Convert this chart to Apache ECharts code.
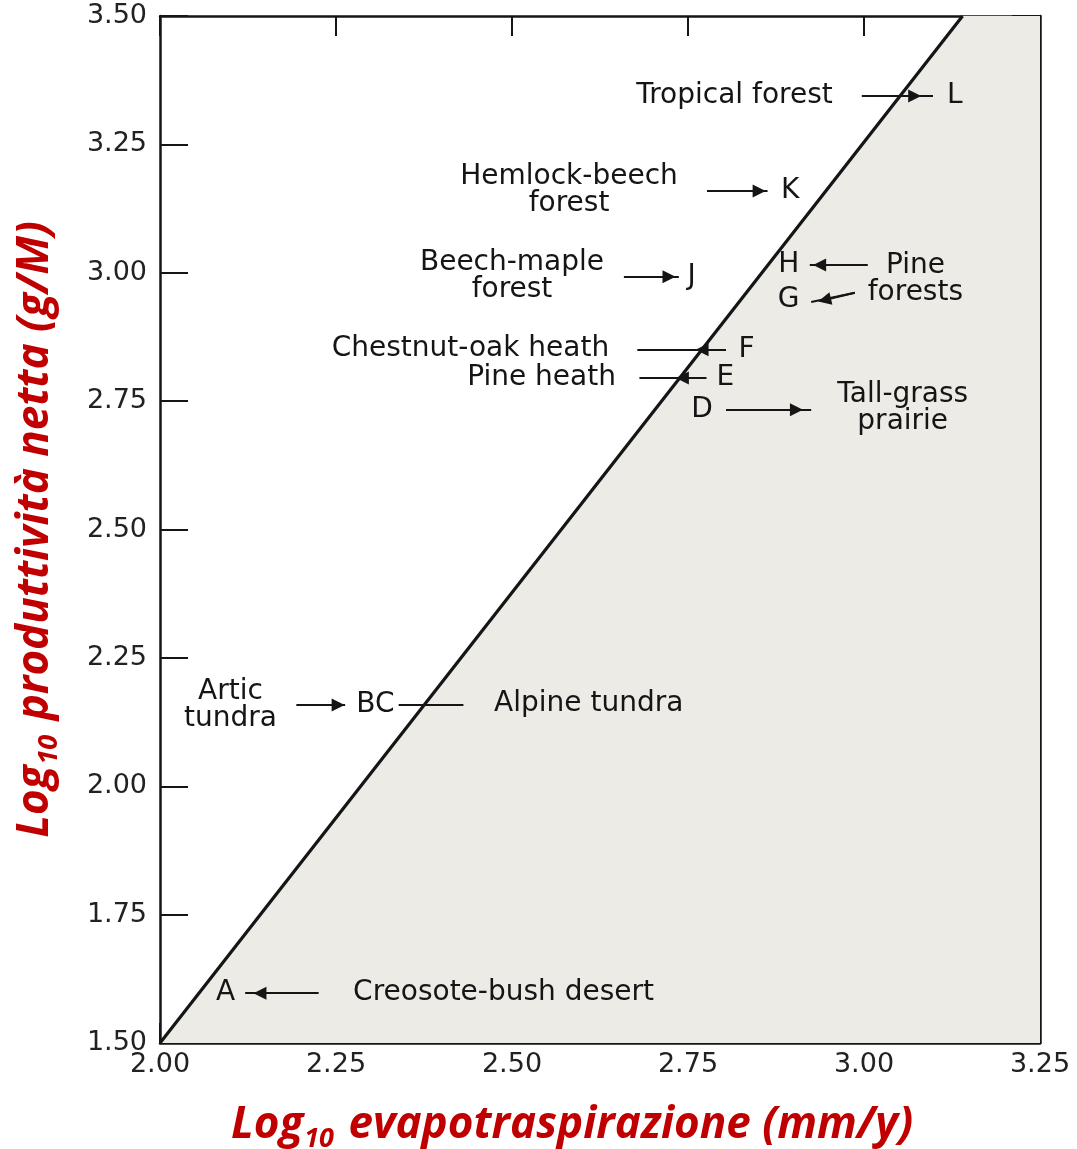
<!DOCTYPE html>
<html>
<head>
<meta charset="utf-8">
<script src="https://cdn.jsdelivr.net/npm/echarts@6/dist/echarts.min.js"></script>
<style>html,body{margin:0;padding:0;background:#fff;}#c{width:1077px;height:1149px;}</style>
</head>
<body>
<div id="c"></div>
<script>
// Axis ranges and ticks
const xTicks = [2.00, 2.25, 2.50, 2.75, 3.00, 3.25];
const yTicks = [1.50, 1.75, 2.00, 2.25, 2.50, 2.75, 3.00, 3.25, 3.50];

// Boundary line (log10 evapotranspiration vs log10 net productivity)
const boundaryX = [2.00, 3.14];
const boundaryY = [1.50, 3.50];

// Ecosystem letters and positions
const pointNames = ['L', 'K', 'J', 'F', 'E', 'D', 'H', 'G', 'BC', 'A'];
const pointX = [3.129, 2.895, 2.755, 2.833, 2.803, 2.770, 2.893, 2.893, 2.306, 2.093];
const pointY = [3.344, 3.159, 2.992, 2.850, 2.795, 2.733, 3.015, 2.947, 2.158, 1.597];

// Descriptive labels
const labelTexts = ['Tropical forest', 'Hemlock-beech\nforest', 'Beech-maple\nforest',
  'Chestnut-oak heath', 'Pine heath', 'Tall-grass\nprairie', 'Pine\nforests',
  'Artic\ntundra', 'Alpine tundra', 'Creosote-bush desert'];
const labelX = [2.816, 2.581, 2.500, 2.441, 2.542, 3.055, 3.073, 2.100, 2.609, 2.488];
const labelY = [3.344, 3.161, 2.994, 2.853, 2.795, 2.737, 2.988, 2.158, 2.160, 1.597];

// Leader lines: [x1, y1, x2, y2]
const leaderLines = [
  [2.997, 3.344, 3.098, 3.344],
  [2.777, 3.159, 2.863, 3.159],
  [2.659, 2.992, 2.737, 2.992],
  [2.678, 2.850, 2.804, 2.850],
  [2.681, 2.795, 2.776, 2.795],
  [2.804, 2.733, 2.925, 2.733],
  [3.005, 3.015, 2.923, 3.015],
  [2.987, 2.961, 2.925, 2.943],
  [2.194, 2.158, 2.263, 2.158],
  [2.339, 2.158, 2.431, 2.158],
  [2.225, 1.597, 2.121, 1.597]
];
// Arrow heads: [tailX, tailY, headX, headY]
const arrowHeads = [
  [2.997, 3.344, 3.072, 3.344],
  [2.777, 3.159, 2.851, 3.159],
  [2.659, 2.992, 2.723, 2.992],
  [2.804, 2.850, 2.770, 2.850],
  [2.776, 2.795, 2.742, 2.795],
  [2.804, 2.733, 2.904, 2.733],
  [3.005, 3.015, 2.937, 3.015],
  [2.987, 2.961, 2.944, 2.947],
  [2.194, 2.158, 2.253, 2.158],
  [2.225, 1.597, 2.142, 1.597]
];

const ink = '#151515';
const txtFont = 'DejaVu Sans';
const chart = echarts.init(document.getElementById('c'), null, {renderer: 'canvas'});

const xMin = xTicks[0], xMax = xTicks[xTicks.length - 1];
const yMin = yTicks[0], yMax = yTicks[yTicks.length - 1];

function axisCommon(showLabel, tickLen, isX) {
  return {
    type: 'value',
    min: isX ? xMin : yMin,
    max: isX ? xMax : yMax,
    interval: 0.25,
    splitLine: {show: false},
    axisLine: {show: true, onZero: false, lineStyle: {color: ink, width: 2.5}},
    axisTick: {show: true, inside: true, length: tickLen, lineStyle: {color: ink, width: 2}},
    axisLabel: {show: showLabel, formatter: v => v.toFixed(2), fontFamily: txtFont, fontSize: 27, color: '#222', margin: isX ? 8 : 13}
  };
}

const titleRich = {
  a: {fontFamily: 'Open Sans', fontWeight: 'bold', fontStyle: 'italic', fontSize: 44, color: '#c00000', lineHeight: 56, verticalAlign: 'middle'},
  s: {fontFamily: 'Open Sans', fontWeight: 'bold', fontStyle: 'italic', fontSize: 27, color: '#c00000', lineHeight: 56, verticalAlign: 'bottom', padding: [0, 3, 0, 1]}
};

const xBottom = Object.assign(axisCommon(true, 20, true), {
  position: 'bottom',
  name: '{a|Log}{s|10}{a| evapotraspirazione (mm/y)}',
  nameLocation: 'middle', nameGap: 54,
  nameTextStyle: {rich: titleRich, padding: [0, 56, 0, 0]}
});
const xTop = Object.assign(axisCommon(false, 20, true), {position: 'top'});
const yLeft = Object.assign(axisCommon(true, 28, false), {
  position: 'left',
  name: '{a|Log}{s|10}{a| produttività netta (g/M)}',
  nameLocation: 'middle', nameGap: 97, nameRotate: 90,
  nameTextStyle: {rich: titleRich}
});
const yRight = Object.assign(axisCommon(false, 28, false), {position: 'right'});

const boundary = boundaryX.map((x, i) => [x, boundaryY[i]]);
const areaData = boundary.concat([[xMax, yMax]]);

const option = {
  backgroundColor: '#ffffff',
  animation: false,
  grid: {left: 160, right: 37, top: 16, bottom: 106, containLabel: false, outerBoundsMode: 'none'},
  xAxis: [xBottom, xTop],
  yAxis: [yLeft, yRight],
  series: [
    {
      type: 'line', data: areaData, showSymbol: false, silent: true,
      lineStyle: {width: 0}, areaStyle: {color: '#ecebe6', opacity: 1, origin: 'start'}, z: 1
    },
    {
      type: 'line', data: boundary, showSymbol: false, silent: true,
      lineStyle: {color: ink, width: 3.2}, z: 3
    },
    {
      type: 'lines', coordinateSystem: 'cartesian2d', silent: true, z: 4,
      symbol: ['none', 'none'],
      lineStyle: {color: ink, width: 2, opacity: 1},
      data: leaderLines.map(s => ({coords: [[s[0], s[1]], [s[2], s[3]]]}))
    },
    {
      type: 'lines', coordinateSystem: 'cartesian2d', silent: true, z: 5,
      symbol: ['none', 'triangle'], symbolSize: [8, 13],
      lineStyle: {color: ink, width: 2, opacity: 1},
      itemStyle: {color: ink},
      data: arrowHeads.map(s => ({coords: [[s[0], s[1]], [s[2], s[3]]]}))
    },
    {
      type: 'scatter', symbolSize: 0, silent: true, z: 6,
      itemStyle: {opacity: 1},
      data: pointNames.map((n, i) => ({name: n, value: [pointX[i], pointY[i]]})),
      label: {show: true, position: 'inside', formatter: '{b}', fontFamily: txtFont, fontSize: 28, color: ink}
    },
    {
      type: 'scatter', symbolSize: 0, silent: true, z: 6,
      itemStyle: {opacity: 1},
      data: labelTexts.map((n, i) => ({name: n, value: [labelX[i], labelY[i]]})),
      label: {show: true, position: 'inside', formatter: '{b}', fontFamily: txtFont, fontSize: 28, lineHeight: 27, color: ink, align: 'center'}
    }
  ]
};
chart.setOption(option);
</script>
</body>
</html>
